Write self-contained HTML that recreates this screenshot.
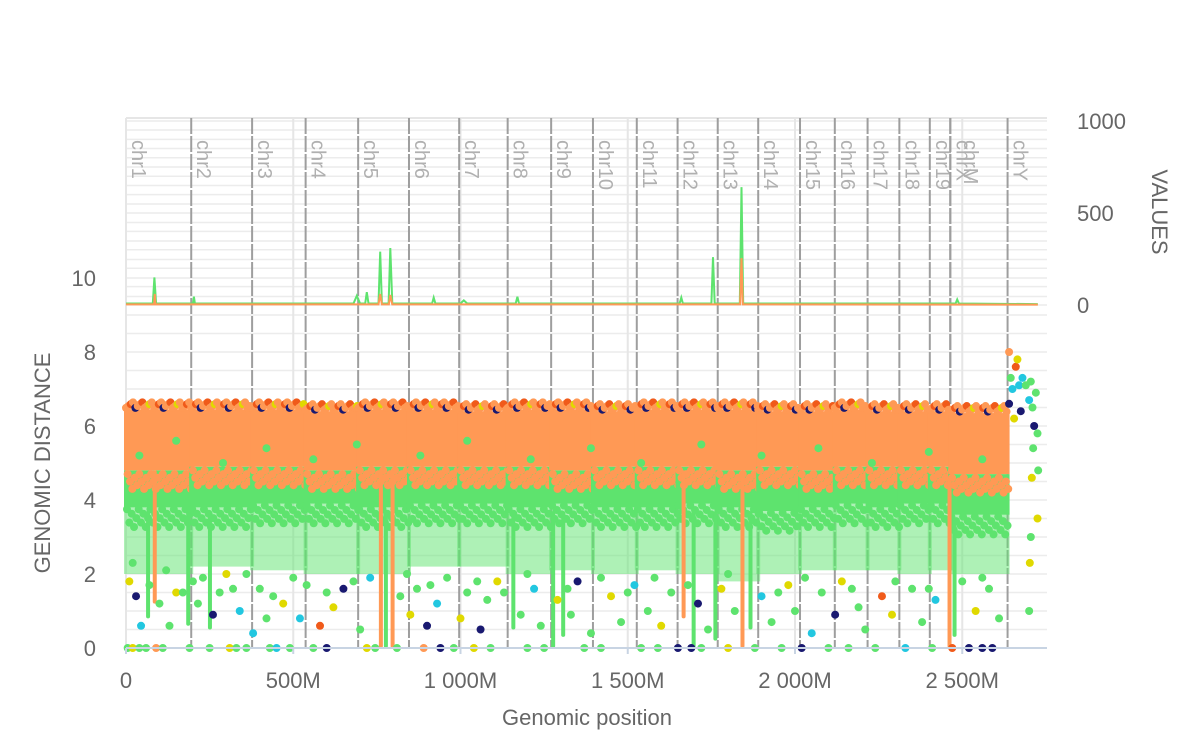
<!DOCTYPE html>
<html><head><meta charset="utf-8"><style>
body{margin:0;background:#fff;}
svg text{font-family:"Liberation Sans",sans-serif;}
</style></head><body>
<svg id="c" width="1200" height="745" xmlns="http://www.w3.org/2000/svg"></svg>
<script>
const chromNames=["chr1","chr2","chr3","chr4","chr5","chr6","chr7","chr8","chr9","chr10","chr11","chr12","chr13","chr14","chr15","chr16","chr17","chr18","chr19","chrM","chrX","chrY"];
const chromLens=[195,182,160,157,152,150,145,130,125,131,122,120,121,125,104,98,95,91,61,0.5,171,91];
const xTicks=[0,500,1000,1500,2000,2500];
const xTickLabels=["0","500M","1 000M","1 500M","2 000M","2 500M"];
const yTicks=[0,2,4,6,8,10];
const rTicks=[0,500,1000];
const bandTop=[6.45,6.45,6.45,6.4,6.45,6.45,6.4,6.45,6.45,6.4,6.45,6.45,6.45,6.4,6.4,6.45,6.4,6.4,6.4,6.4,6.35,0];
const orangeBottom=[4.8,4.9,4.9,4.8,4.9,4.9,4.9,4.9,4.8,4.9,4.9,4.9,4.8,4.9,4.8,4.9,4.9,4.9,4.9,4.9,4.7,0];
const greenBottom=[3.8,3.8,3.9,3.9,3.8,3.9,3.9,3.8,3.9,3.8,3.8,3.9,3.8,3.7,3.8,3.9,3.8,3.9,3.9,3.9,3.6,0];
const sparseBottom=[2.0,2.2,2.1,2.0,2.0,2.2,2.2,2.0,2.1,2.0,2.1,2.0,1.8,2.0,2.1,2.1,2.1,2.0,2.1,2.1,2.0,0];
const streaks=[[80,86,1.2,4.8,5],[60,65,0.8,3.7,3],[180,184,0.6,3.7,3],[245,249,0.5,3.6,3],[756,761,0,4.8,5],[791,796,0,4.8,5],[771,775,0,3.7,3],[1152,1156,0.5,3.7,3],[1271,1275,0,3.7,3],[1301,1305,0.3,3.7,3],[1661,1665,0.8,4.8,5],[1691,1695,0,3.7,3],[1756,1760,0.2,3.7,3],[1837,1842,0,4.8,5],[1861,1865,0.5,3.7,3],[2456,2461,0,4.6,5],[2471,2475,0.3,3.5,3]];
const pts=[[5,0,3],[20,0,2],[40,0,3],[60,0,3],[90,0,5],[110,0,3],[190,0,3],[250,0,3],[310,0,2],[330,0,3],[360,0,3],[430,0,3],[450,0,1],[490,0,3],[560,0,3],[600,0,0],[720,0,2],[745,0,3],[810,0,3],[890,0,5],[940,0,0],[980,0,3],[1040,0,2],[1090,0,3],[1200,0,3],[1250,0,3],[1370,0,3],[1420,0,3],[1540,0,3],[1590,0,3],[1650,0,0],[1690,0,0],[1720,0,3],[1800,0,2],[1880,0,3],[1960,0,3],[2020,0,0],[2100,0,3],[2160,0,3],[2240,0,3],[2330,0,1],[2410,0,3],[2470,0,4],[2520,0,0],[2560,0,0],[2590,0,0],
[10,1.8,2],[30,1.4,0],[45,0.6,1],[100,1.2,3],[130,0.6,3],[150,1.5,2],[200,1.8,3],[215,1.2,3],[260,0.9,0],[280,1.5,3],[300,2.0,2],[340,1.0,1],[380,0.4,1],[400,1.6,3],[420,0.8,3],[470,1.2,2],[520,0.8,1],[540,1.7,3],[580,0.6,4],[620,1.1,2],[650,1.6,0],[700,0.5,3],[730,1.9,1],[820,1.4,3],[850,0.9,2],[870,1.6,3],[900,0.6,0],[930,1.2,1],[960,1.9,3],[1000,0.8,2],[1020,1.5,3],[1060,0.5,0],[1080,1.3,3],[1110,1.8,2],[1180,0.9,3],[1220,1.6,1],[1240,0.6,3],[1290,1.3,2],[1330,0.9,3],[1350,1.8,0],[1390,0.4,3],[1450,1.4,2],[1480,0.7,3],[1520,1.7,1],[1560,1.0,3],[1600,0.6,2],[1630,1.5,3],[1710,1.2,0],[1740,0.5,3],[1780,1.6,2],[1820,1.0,3],[1900,1.4,1],[1930,0.7,3],[1980,1.7,2],[2000,1.0,3],[2050,0.4,1],[2080,1.5,3],[2120,0.9,0],[2140,1.8,2],[2190,1.1,3],[2210,0.5,3],[2260,1.4,4],[2290,0.9,2],[2350,1.6,3],[2380,0.7,3],[2420,1.3,1],[2500,1.8,3],[2540,1.0,2],[2580,1.6,3],[2610,0.8,3],
[20,2.3,3],[70,1.7,3],[120,2.1,3],[170,1.5,3],[230,1.9,3],[320,1.6,3],[360,2.0,3],[440,1.4,3],[500,1.9,3],[600,1.5,3],[680,1.8,3],[840,2.0,3],[910,1.7,3],[1050,1.8,3],[1130,1.5,3],[1200,2.0,3],[1320,1.6,3],[1420,1.9,3],[1500,1.5,3],[1580,1.9,3],[1680,1.7,3],[1800,2.0,3],[1950,1.5,3],[2030,1.9,3],[2170,1.6,3],[2300,1.8,3],[2400,1.6,3],[2560,1.9,3],
[40,5.2,3],[150,5.6,3],[290,5.0,3],[420,5.4,3],[560,5.1,3],[690,5.5,3],[880,5.2,3],[1020,5.6,3],[1210,5.1,3],[1390,5.4,3],[1540,5.0,3],[1720,5.5,3],[1900,5.2,3],[2070,5.4,3],[2230,5.0,3],[2400,5.3,3],[2560,5.1,3],
[2640,6.6,0],[2645,7.3,3],[2650,7.0,1],[2655,6.2,2],[2660,7.6,4],[2665,7.8,2],[2670,7.1,1],[2675,6.4,0],[2680,7.3,1],[2690,7.1,3],[2700,6.7,1],[2705,7.2,3],[2710,6.5,3],[2715,6.0,0],[2720,6.9,3],[2725,5.8,3],[2727,4.8,3],[2725,3.5,2],[2712,5.4,3],[2708,4.6,2],[2702,2.3,2],[2700,1.0,3],[2640,8.0,5],[2705,3.0,3]];
const greenLine=[[0,8],[80,8],[85,150],[90,8],[200,8],[203,45],[206,8],[680,8],[690,50],[700,8],[715,8],[720,70],[725,8],[755,8],[760,290],[765,8],[785,8],[790,310],[796,8],[915,8],[920,40],[925,8],[1000,8],[1010,25],[1020,8],[1165,8],[1170,45],[1175,8],[1655,8],[1660,40],[1665,8],[1750,8],[1755,260],[1760,8],[1835,8],[1840,640],[1845,8],[2480,8],[2485,30],[2490,8],[2726,5]];
const orangeLine=[[0,3],[84,3],[86,60],[88,3],[755,3],[760,60],[765,3],[786,3],[790,55],[796,3],[1836,3],[1840,255],[1844,3],[2726,2]];
const colors=["#191970","#22c7e0","#e0d900","#5ee36e","#f05a1a","#ff9955"];

const svg=document.getElementById('c');
const NS="http://www.w3.org/2000/svg";
const X0=126,XPX=0.3345,YL0=648,YLPX=37,YR0=305,YRPX=0.184,TOP=118,RIGHT=1047;
const xS=m=>X0+m*XPX, yL=d=>YL0-d*YLPX, yR=v=>YR0-v*YRPX;
function el(tag,attrs,parent){const e=document.createElementNS(NS,tag);for(const k in attrs)e.setAttribute(k,attrs[k]);(parent||svg).appendChild(e);return e;}

const grid=el('g',{});


for(let d=0;d<=14;d+=0.5){if(yL(d)<TOP)break;el('line',{x1:X0,x2:RIGHT,y1:yL(d),y2:yL(d),stroke:'#ececec','stroke-width':1.5},grid);}
for(let v=0;v<=1000;v+=100){el('line',{x1:X0,x2:RIGHT,y1:yR(v),y2:yR(v),stroke:'#ececec','stroke-width':1.5},grid);}
el('line',{x1:X0,x2:RIGHT,y1:TOP,y2:TOP,stroke:'#e6e6e6','stroke-width':2},grid);
xTicks.forEach(t=>el('line',{x1:xS(t),x2:xS(t),y1:TOP,y2:YL0,stroke:'#e6e6e6','stroke-width':2},grid));

const chr=el('g',{});


let cum=0;
chromNames.forEach((n,i)=>{
  const x=xS(cum);
  if(i>0){const l=el('line',{x1:x,x2:x,y1:TOP,y2:YL0,stroke:'#9e9e9e','stroke-width':2,'stroke-dasharray':'16,2'},chr);}
  const t=el('text',{x:0,y:0,transform:`translate(${x+6+(n==='chrM'?8:0)},140) rotate(90)`,fill:'#b0b0b0','font-size':20},chr);
  t.textContent=n;
  
  
  cum+=chromLens[i];
});

const bands=el('g',{});


cum=0;
const topCols=[5,5,4,5,0,5,5,4,5,5,2,5];
chromNames.forEach((n,i)=>{
  if(bandTop[i]>0){
    const x1=xS(cum),x2=xS(cum+chromLens[i]);
    el('rect',{x:x1-2,y:yL(greenBottom[i]),width:x2-x1+4,height:yL(sparseBottom[i])-yL(greenBottom[i]),fill:colors[3],opacity:0.5},bands);
    el('rect',{x:x1-2,y:yL(orangeBottom[i]),width:x2-x1+4,height:yL(greenBottom[i])-yL(orangeBottom[i]),fill:colors[3]},bands);
    el('rect',{x:x1-2,y:yL(bandTop[i]),width:x2-x1+4,height:yL(orangeBottom[i])-yL(bandTop[i]),fill:colors[5]},bands);
    let j=0;
    for(let m=cum;m<cum+chromLens[i];m+=7){
      const k=j%4;
      el('circle',{cx:xS(m),cy:yL(bandTop[i]+0.04+k*0.05),r:4,fill:colors[topCols[j%topCols.length]]},bands);
      el('circle',{cx:xS(m+3),cy:yL(greenBottom[i]-0.05-((j*3)%5)*0.12),r:4,fill:colors[3]},bands);
      el('circle',{cx:xS(m+5),cy:yL(orangeBottom[i]-0.1-((j*2)%5)*0.1),r:4,fill:colors[5]},bands);
      j++;
    }
  }
  cum+=chromLens[i];
});
streaks.forEach(s=>{el('rect',{x:xS(s[0]),y:yL(s[3]),width:Math.max(4,xS(s[1])-xS(s[0])),height:yL(s[2])-yL(s[3]),fill:colors[s[4]],rx:2},bands);});
pts.forEach(p=>{el('circle',{cx:xS(p[0]),cy:yL(p[1]),r:4,fill:colors[p[2]]},bands);});

function path(data,col,name){
  const d=data.map((p,i)=>(i?'L':'M')+xS(p[0]).toFixed(1)+','+yR(p[1]).toFixed(1)).join('');
  const e=el('path',{d:d,fill:'none',stroke:col,'stroke-width':2});
  
  
}
path(greenLine,colors[3],'values-line-green');
path(orangeLine,colors[5],'values-line-orange');

el('line',{x1:X0,x2:RIGHT,y1:YL0,y2:YL0,stroke:'#c8d4e3','stroke-width':2});
const xa=el('g',{});


xTicks.forEach((t,i)=>{
  el('line',{x1:xS(t),x2:xS(t),y1:YL0,y2:YL0+6,stroke:'#c8d4e3','stroke-width':2},xa);
  const e=el('text',{x:xS(t),y:688,'text-anchor':'middle',fill:'#666','font-size':22},xa);e.textContent=xTickLabels[i];
});
const ya=el('g',{});


yTicks.forEach(t=>{const e=el('text',{x:96,y:yL(t)+8,'text-anchor':'end',fill:'#666','font-size':22},ya);e.textContent=String(t);});
const yr=el('g',{});


rTicks.forEach(t=>{const e=el('text',{x:1077,y:yR(t)+8,fill:'#666','font-size':22},yr);e.textContent=String(t);});

let t=el('text',{x:587,y:725,'text-anchor':'middle',fill:'#666','font-size':22});t.textContent='Genomic position';

t=el('text',{x:0,y:0,transform:'translate(50,463) rotate(-90)','text-anchor':'middle',fill:'#666','font-size':22});t.textContent='GENOMIC DISTANCE';

t=el('text',{x:0,y:0,transform:'translate(1152,212) rotate(90)','text-anchor':'middle',fill:'#666','font-size':22});t.textContent='VALUES';

</script>
</body></html>
